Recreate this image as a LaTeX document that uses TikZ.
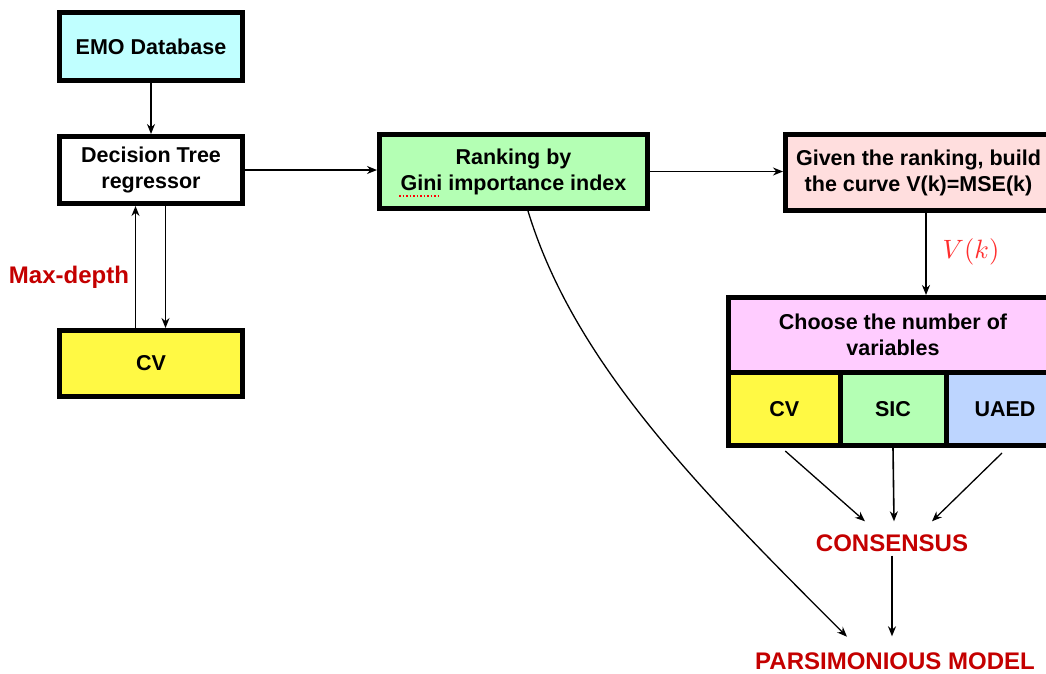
\documentclass[tikz,border=0pt]{standalone}
\usepackage{fontspec}
\setmainfont{Liberation Sans}
\usetikzlibrary{arrows.meta}
\definecolor{cyanf}{HTML}{C0FFFF}
\definecolor{yellowf}{HTML}{FFF944}
\definecolor{greenf}{HTML}{B4FFB4}
\definecolor{pinkf}{HTML}{FFDEDE}
\definecolor{magf}{HTML}{FFCCFF}
\definecolor{bluef}{HTML}{BDD5FF}
\definecolor{darkred}{HTML}{C40000}
\definecolor{brightred}{HTML}{FF2E2E}
\tikzset{
  box/.style={draw=black, line width=5pt, align=center, inner sep=0pt,
    font=\bfseries\fontsize{21.5}{26}\selectfont},
  redlabel/.style={text=darkred, inner sep=0pt, font=\bfseries\fontsize{24}{28}\selectfont},
  conn/.style={draw=black, line width=1.6pt, -{Stealth[length=10pt,width=8pt]}},
}
\begin{document}
\begin{tikzpicture}[x=1pt, y=-1pt]
\useasboundingbox (0,0) rectangle (1046,673);
\clip (0,0) rectangle (1046,673);
% left column
\node[box, fill=cyanf, minimum width=183pt, minimum height=68pt] (emo) at (151,46.5) {EMO Database};
\node[box, fill=white, minimum width=183pt, minimum height=67pt] (dt) at (151,170) {Decision Tree\\regressor};
\node[box, fill=yellowf, minimum width=183pt, minimum height=66pt] (cvl) at (151,363.5) {CV};
\node[redlabel] (maxd) at (69,277) {Max-depth};
% ranking
\node[box, fill=greenf, minimum width=268pt, minimum height=74pt] (rank) at (513.5,171.5) {Ranking by\\Gini importance index};
\coordinate (g1) at (399,196);
\coordinate (g2) at (438,196);
\draw[red, line width=1.5pt, dotted] (g1) -- (g2);
% given
\node[box, fill=pinkf, minimum width=266pt, minimum height=76pt] (given) at (918.5,172.5) {Given the ranking, build\\the curve V(k)=MSE(k)};
% choose
\node[box, fill=magf, minimum width=329pt, minimum height=74.5pt] (choose) at (893,334.75) {Choose the number of\\variables};
\node[box, fill=yellowf, minimum width=111.5pt, minimum height=73.5pt] (cvc) at (784.25,408.75) {CV};
\node[box, fill=greenf, minimum width=106pt, minimum height=73.5pt] (sic) at (893,408.75) {SIC};
\node[box, fill=bluef, minimum width=118pt, minimum height=73.5pt] (uaed) at (1005,408.75) {UAED};
\node[text=brightred, inner sep=0pt] (vk) at (971,252) {\scalebox{2.65}{$V(k)$}};
% results
\node[redlabel] (cons) at (892,543) {CONSENSUS};
\node[redlabel] (pars) at (895,661) {PARSIMONIOUS MODEL};
\coordinate (gx) at (926,0);
% connectors
\draw[conn] (emo.south) -- (dt.north);
\draw[conn] ([xshift=-15.5pt]cvl.north) -- ([xshift=-15.5pt]dt.south);
\draw[conn] ([xshift=14.5pt]dt.south) -- ([xshift=14.5pt]cvl.north);
\draw[conn] (dt.east) -- (dt.east -| rank.west);
\draw[conn] (rank.east) -- (rank.east -| given.west);
\draw[conn] (given.south -| gx) -- (choose.north -| gx);
\draw[conn, line width=1.3pt] ([xshift=1pt,yshift=-3pt]cvc.south) -- ([xshift=-27pt,yshift=13pt]cons.north);
\draw[conn] (sic.south) -- ([xshift=2pt,yshift=13pt]cons.north);
\draw[conn, line width=1.3pt] ([xshift=-3pt,yshift=-5pt]uaed.south) -- ([xshift=40pt,yshift=13pt]cons.north);
\draw[conn] ([yshift=-4pt]cons.south) -- ([xshift=-3pt,yshift=16pt]pars.north);
\draw[conn, line width=1.3pt] (rank.south -| 528,0) .. controls (574,362) and (697,487) .. ([xshift=-48pt,yshift=15.6pt]pars.north);
\end{tikzpicture}
\end{document}
